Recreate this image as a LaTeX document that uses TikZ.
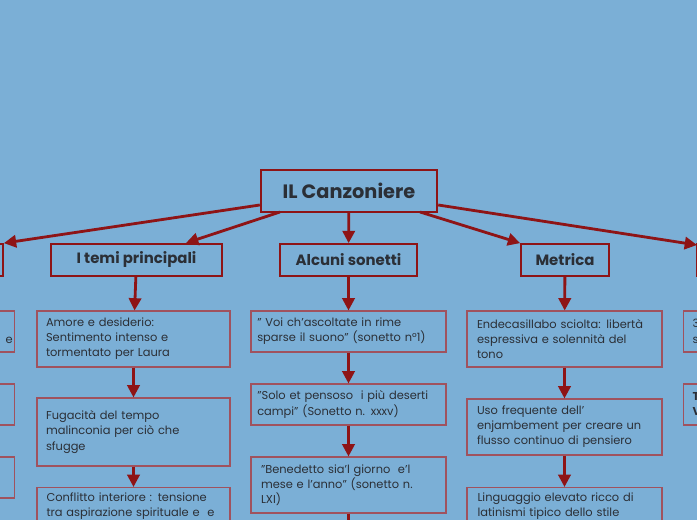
\documentclass[tikz,border=0pt]{standalone}
\usepackage{fontspec}
\setmainfont{Poppins}
\usetikzlibrary{arrows.meta}
\definecolor{sfondo}{HTML}{7BAFD6}
\definecolor{rosso}{HTML}{8E1416}
\definecolor{bordo}{HTML}{A0525E}
\definecolor{testo}{HTML}{2B2F36}
\begin{document}
\begin{tikzpicture}[x=0.02cm,y=-0.02cm]
    \tikzstyle{root}=[draw=rosso,line width=1.4pt,text=testo,font=\bfseries\fontsize{11}{13}\selectfont,inner sep=0pt]
    \tikzstyle{tema}=[draw=rosso,line width=1pt,text=testo,font=\bfseries\fontsize{8.5}{10}\selectfont,inner sep=0pt]
    \tikzstyle{foglia}=[draw=bordo,line width=0.6pt,text=testo,font=\fontsize{6.5}{8.6}\selectfont,align=left,inner sep=0pt]
    \tikzstyle{edge}=[draw=rosso,line width=1.6pt,-{Triangle[length=7pt,width=7pt]}]

    \fill[sfondo] (0,0) rectangle (697,520);
    \clip (0,0) rectangle (697,520);

    \node[root, minimum width=3.52cm, minimum height=0.84cm] (root) at (349,191) {IL Canzoniere};

    \node[tema, minimum width=1.6cm, minimum height=0.64cm] (sx) at (-37,260) {};
    \node[tema, minimum width=3.42cm, minimum height=0.64cm] (temi) at (136.5,260) {I temi principali};
    \node[tema, minimum width=2.74cm, minimum height=0.64cm] (sonetti) at (348.5,260) {Alcuni sonetti};
    \node[tema, minimum width=1.76cm, minimum height=0.64cm] (metrica) at (565,260) {Metrica};
    \node[tema, minimum width=1.6cm, minimum height=0.64cm] (dx) at (737,260) {};

    \path[edge] (root.west |- 0,205) -- (sx.north east);
    \path[edge] (280,212) -- (186,243);
    \path[edge] (root) -- (sonetti);
    \path[edge] (420,212) -- (metrica.north west);
    \path[edge] (root.east |- 0,205) -- (697,245);

    % colonna sinistra (tagliata)
    \node[foglia, minimum width=3.9cm, minimum height=0.82cm] (s1) at (-83,331.5) {};
    \node[foglia, minimum width=3.9cm, minimum height=0.82cm] (s2) at (-83,404.5) {};
    \node[foglia, minimum width=3.9cm, minimum height=0.82cm] (s3) at (-83,477.5) {};
    \node[font=\fontsize{6.5}{8.6}\selectfont,text=testo,anchor=east,inner sep=0pt] at (13,340) {e};

    % I temi principali
    \node[foglia, minimum width=3.86cm, minimum height=1.12cm, text width=3.5cm] (t1) at (133.5,339) {Amore e desiderio:\\Sentimento intenso e\\tormentato per Laura};
    \node[foglia, minimum width=3.86cm, minimum height=1.36cm, text width=3.5cm] (t2) at (133.5,432) {Fugacità del tempo\\malinconia per ciò che\\sfugge};
    \node[foglia, minimum width=3.86cm, minimum height=1.36cm, anchor=north] (t3) at (133.5,487) {};
    \node[foglia, draw=none, text width=3.6cm, anchor=north west] at (46,492) {Conflitto interiore : tensione\\tra aspirazione spirituale e\ \ e};
    \path[edge] (temi) -- (t1);
    \path[edge] (t1) -- (t2);
    \path[edge] (t2) -- (t3);

    % Alcuni sonetti
    \node[foglia, minimum width=3.9cm, minimum height=0.82cm, text width=3.65cm] (n1) at (348.5,331.5) {" Voi ch’ascoltate in rime\\sparse il suono" (sonetto n°1)};
    \node[foglia, minimum width=3.9cm, minimum height=0.82cm, text width=3.65cm] (n2) at (348.5,404.5) {"Solo et pensoso\ \ i più deserti\\campi" (Sonetto n. xxxv)};
    \node[foglia, minimum width=3.9cm, minimum height=1.12cm, text width=3.5cm] (n3) at (348.5,485) {"Benedetto sia’l giorno\ \ e’l\\mese e l’anno" (sonetto n.\\LXI)};
    \coordinate (n4) at (348.5,530);
    \path[edge] (sonetti) -- (n1);
    \path[edge] (n1) -- (n2);
    \path[edge] (n2) -- (n3);
    \draw[rosso,line width=1.6pt] (n3) -- (n4);

    % Metrica
    \node[foglia, minimum width=3.9cm, minimum height=1.12cm, text width=3.5cm] (m1) at (564.5,339) {Endecasillabo sciolta: libertà\\espressiva e solennità del\\tono};
    \node[foglia, minimum width=3.9cm, minimum height=1.12cm, text width=3.5cm] (m2) at (564.5,427) {Uso frequente dell’\\enjambement per creare un\\flusso continuo di pensiero};
    \node[foglia, minimum width=3.9cm, minimum height=1.36cm, anchor=north] (m3) at (564.5,487) {};
    \node[foglia, draw=none, text width=3.5cm, anchor=north west] at (477,492) {Linguaggio elevato ricco di\\latinismi tipico dello stile};
    \path[edge] (metrica) -- (m1);
    \path[edge] (m1) -- (m2);
    \path[edge] (m2) -- (m3);

    % colonna destra (tagliata)
    \node[foglia, minimum width=3.9cm, minimum height=0.82cm, anchor=west] (d1) at (683,331.5) {};
    \node[foglia, minimum width=3.9cm, minimum height=0.82cm, anchor=west] (d2) at (683,404.5) {};
    \node[foglia, anchor=north west, draw=none] at (692,319) {3\\s};
    \node[foglia, anchor=north west, draw=none, font=\bfseries\fontsize{6.5}{8.6}\selectfont] at (692,392) {T\\V};
\end{tikzpicture}
\end{document}
